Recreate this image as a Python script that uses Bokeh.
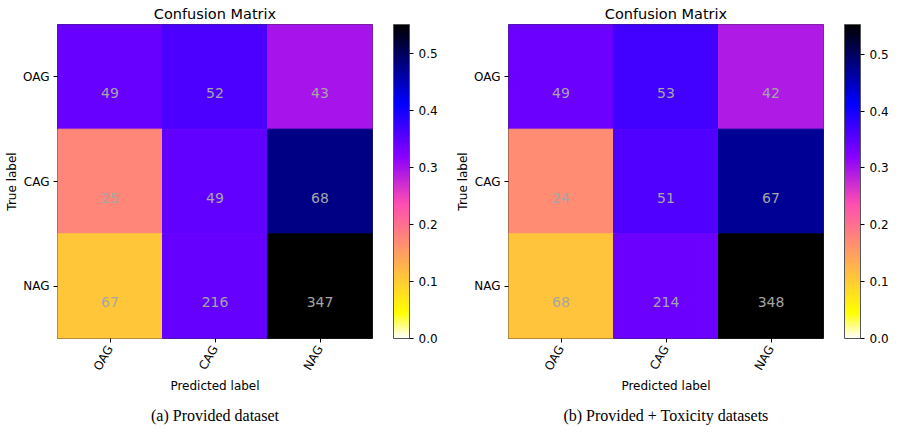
import math
import numpy as np
from bokeh.plotting import figure
from bokeh.layouts import row
from bokeh.models import (ColumnDataSource, LinearColorMapper, ColorBar, FixedTicker,
                          PrintfTickFormatter, Range1d, Title)
from bokeh.core.properties import value
from bokeh.transform import transform
from bokeh.embed import file_html
from bokeh.resources import INLINE

# ---------------- data ----------------
classes = ["OAG", "CAG", "NAG"]
counts_a = [[49, 52, 43], [25, 49, 68], [67, 216, 347]]
counts_b = [[49, 53, 42], [24, 51, 67], [68, 214, 348]]
captions = ["(a) Provided dataset", "(b) Provided + Toxicity datasets"]
title_text = "Confusion Matrix"
xlabel = "Predicted label"
ylabel = "True label"
colorbar_ticks = [0.0, 0.1, 0.2, 0.3, 0.4, 0.5]


# ---------------- colormap: matplotlib gnuplot2_r ----------------
def gnuplot2_r(n=256):
    cols = []
    for i in range(n):
        x = 1.0 - i / (n - 1)
        r = x / 0.32 - 0.78125
        g = 2 * x - 0.84
        if x < 0.25:
            b = 4 * x
        elif x < 0.92:
            b = -2 * x + 1.84
        else:
            b = x / 0.08 - 11.5
        r, g, b = [min(1.0, max(0.0, c)) for c in (r, g, b)]
        cols.append("#%02x%02x%02x" % (int(round(r * 255)), int(round(g * 255)), int(round(b * 255))))
    return cols


PALETTE = gnuplot2_r()
FONT = "DejaVu Sans"


def make_panel(counts, caption, width, left_border, right_border):
    cm = np.array(counts, dtype=float)
    norm = cm / cm.sum(axis=1, keepdims=True)
    xs, ys, vals, txt = [], [], [], []
    for i in range(len(classes)):
        for j in range(len(classes)):
            xs.append(j)
            ys.append(i)
            vals.append(norm[i, j])
            txt.append(str(counts[i][j]))
    src = ColumnDataSource(dict(x=xs, y=ys, v=vals, t=txt))
    mapper = LinearColorMapper(palette=PALETTE, low=0.0, high=float(norm.max()))

    p = figure(width=width, height=432, output_backend="svg", toolbar_location=None,
               x_range=Range1d(-0.5, 2.5), y_range=Range1d(2.5, -0.5),
               min_border_left=left_border, min_border_right=right_border,
               min_border_top=24, min_border_bottom=92)
    p.title.text = title_text
    p.title.align = "center"
    p.title.text_font = FONT
    p.title.text_font_size = "14.5px"
    p.title.text_font_style = "normal"
    p.title.text_color = "#000000"
    p.title.standoff = 6

    p.rect(x="x", y="y", width=1, height=1, source=src,
           fill_color=transform("v", mapper), line_color=transform("v", mapper),
           line_width=1)
    p.text(x="x", y="y", text="t", source=src, text_align="center",
           text_baseline="middle", y_offset=16, text_color="#a6a6a6",
           text_font=value(FONT), text_font_size="14px")

    p.grid.visible = False
    p.outline_line_color = "#333333"
    p.outline_line_width = 1

    for ax in (p.xaxis[0], p.yaxis[0]):
        ax.ticker = FixedTicker(ticks=[0, 1, 2])
        ax.major_label_overrides = {i: c for i, c in enumerate(classes)}
        ax.minor_tick_line_color = None
        ax.axis_line_color = None
        ax.major_tick_in = 0
        ax.major_tick_out = 4
        ax.major_tick_line_color = "#000000"
        ax.major_label_text_font = FONT
        ax.major_label_text_font_size = "12px"
        ax.major_label_text_color = "#000000"
        ax.axis_label_text_font = FONT
        ax.axis_label_text_font_size = "12px"
        ax.axis_label_text_font_style = "normal"
        ax.axis_label_text_color = "#000000"
        ax.major_label_standoff = 5

    p.xaxis.axis_label = xlabel
    p.yaxis.axis_label = ylabel
    p.xaxis.major_label_orientation = math.pi / 3
    p.yaxis.axis_label_standoff = 1
    p.yaxis.major_label_standoff = 4
    p.xaxis.axis_label_standoff = 0
    p.xaxis.major_label_standoff = 4

    cb = ColorBar(color_mapper=mapper, ticker=FixedTicker(ticks=colorbar_ticks),
                  formatter=PrintfTickFormatter(format="%.1f"),
                  width=16, padding=0, margin=0, location=(21, 0),
                  bar_line_color="#555555", major_tick_in=0, major_tick_out=4,
                  major_tick_line_color="#000000", minor_tick_line_color=None,
                  major_label_text_font=FONT, major_label_text_font_size="12px",
                  major_label_text_color="#000000", label_standoff=5,
                  background_fill_alpha=0, border_line_color=None)
    p.add_layout(cb, "right")

    cap = Title(text=caption, align="center", text_font="Liberation Serif",
                text_font_size="16px", text_font_style="normal", text_color="#000000",
                standoff=17)
    p.add_layout(cap, "below")
    return p


pa = make_panel(counts_a, captions[0], 450, 57, 78)
pb = make_panel(counts_b, captions[1], 449, 58, 76)
layout = row(pa, pb)

open("out.html", "w").write(file_html(layout, INLINE))
